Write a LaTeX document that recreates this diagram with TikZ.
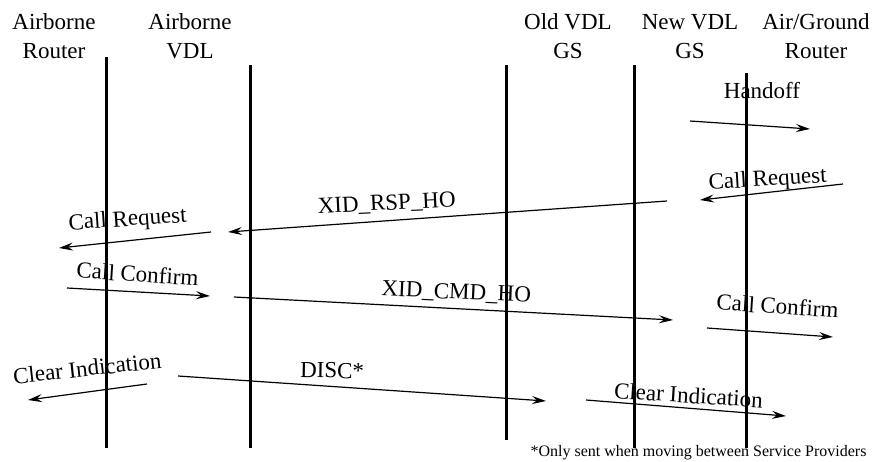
\documentclass[tikz,border=0pt]{standalone}
\usepackage{fontspec}
\setmainfont{Liberation Serif}
\usetikzlibrary{arrows.meta}
\begin{document}
\begin{tikzpicture}[x=1pt,y=-1pt,
  hdr/.style={font=\fontsize{23}{29}\selectfont, align=center, inner sep=0pt, anchor=south},
  lbl/.style={font=\fontsize{23}{28}\selectfont, inner sep=0pt, anchor=base},
  life/.style={line width=3pt},
  msg/.style={line width=1.2pt, -{Stealth[length=14pt,width=8pt,inset=5pt]}},
  note/.style={font=\fontsize{16}{19}\selectfont, inner sep=0pt, anchor=base}]
\useasboundingbox[fill=white] (0,0) rectangle (876,461);

% headers
\node[hdr] (hAR) at (54,59)  {Airborne\\Router};
\node[hdr] (hAV) at (190,59) {Airborne\\VDL};
\node[hdr] (hOG) at (568,59) {Old VDL\\GS};
\node[hdr] (hNG) at (690,59) {New VDL\\GS};
\node[hdr] (hGR) at (816,59) {Air/Ground\\Router};

% lifelines
\coordinate (ARt) at (106,57); \coordinate (ARb) at (106,448);
\coordinate (AVt) at (250,65); \coordinate (AVb) at (250,448);
\coordinate (OGt) at (506,65); \coordinate (OGb) at (506,440);
\coordinate (NGt) at (634,65); \coordinate (NGb) at (634,448);
\coordinate (GRt) at (746,73); \coordinate (GRb) at (746,448);
\draw[life] (ARt) -- (ARb);
\draw[life] (AVt) -- (AVb);
\draw[life] (OGt) -- (OGb);
\draw[life] (NGt) -- (NGb);
\draw[life] (GRt) -- (GRb);

% message end points
\coordinate (m1a) at (690,121);  \coordinate (m1b) at (810,129);
\coordinate (m2a) at (843,184);  \coordinate (m2b) at (700,200);
\coordinate (m3a) at (667,201);  \coordinate (m3b) at (228,232);
\coordinate (m4a) at (211,232);  \coordinate (m4b) at (59,248);
\coordinate (m5a) at (67,288);   \coordinate (m5b) at (210,296);
\coordinate (m6a) at (234,297);  \coordinate (m6b) at (673,320);
\coordinate (m7a) at (707,328);  \coordinate (m7b) at (833,337);
\coordinate (m8a) at (147,384);  \coordinate (m8b) at (28,400);
\coordinate (m9a) at (178,376);  \coordinate (m9b) at (546,401);
\coordinate (m10a) at (586,400); \coordinate (m10b) at (786,416);

\draw[msg] (m1a) -- (m1b);
\draw[msg] (m2a) -- (m2b);
\draw[msg] (m3a) -- (m3b);
\draw[msg] (m4a) -- (m4b);
\draw[msg] (m5a) -- (m5b);
\draw[msg] (m6a) -- (m6b);
\draw[msg] (m7a) -- (m7b);
\draw[msg] (m8a) -- (m8b);
\draw[msg] (m9a) -- (m9b);
\draw[msg] (m10a) -- (m10b);

% labels
\node[lbl] (l1) at (762,98) {Handoff};
\node[lbl, rotate=3.5] (l2) at (768,186) {Call Request};
\node[lbl, rotate=2.7] (l3) at (387,210) {XID\_RSP\_HO};
\node[lbl, rotate=3.9] (l4) at (128,226) {Call Request};
\node[lbl, rotate=-3.8] (l5) at (137,282) {Call Confirm};
\node[lbl, rotate=-2.5] (l6) at (456,299) {XID\_CMD\_HO};
\node[lbl, rotate=-3.8] (l7) at (777,314) {Call Confirm};
\node[lbl, rotate=6.2] (l8) at (88,376) {Clear Indication};
\node[lbl, rotate=-1] (l9) at (332,378) {DISC*};
\node[lbl, rotate=-3.7] (l10) at (688,403) {Clear Indication};

\node[note] (fn) at (698.5,456) {*Only sent when moving between Service Providers};
\end{tikzpicture}
\end{document}
